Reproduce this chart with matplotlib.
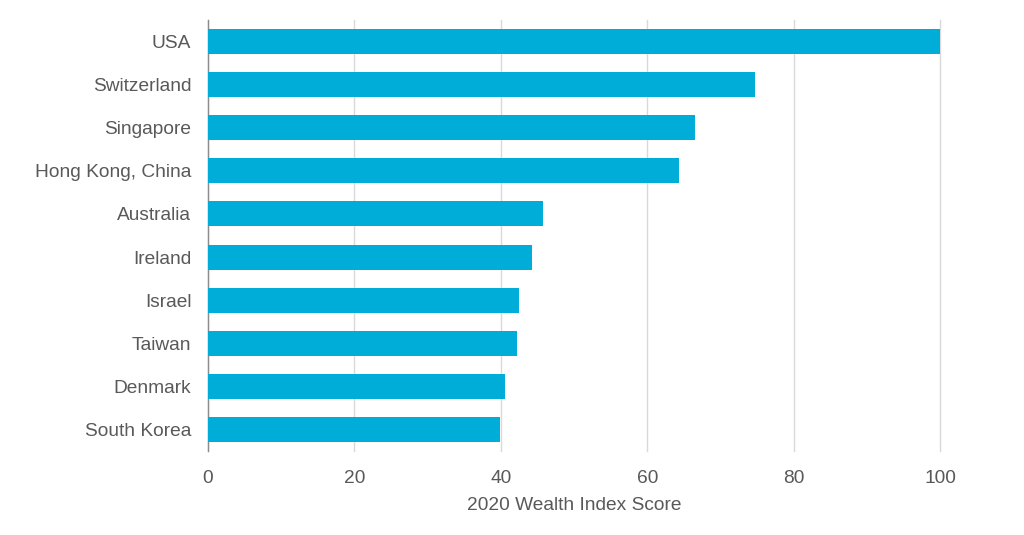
import matplotlib
matplotlib.use("Agg")
import matplotlib.pyplot as plt

countries = ["USA", "Switzerland", "Singapore", "Hong Kong, China", "Australia",
             "Ireland", "Israel", "Taiwan", "Denmark", "South Korea"]
scores = [100, 74.7, 66.5, 64.4, 45.8, 44.3, 42.5, 42.2, 40.6, 39.9]
xticks = [0, 20, 40, 60, 80, 100]

plt.rcParams['font.family'] = ['Liberation Sans', 'DejaVu Sans']
text_color = '#595959'
fs = 13.8

fig = plt.figure(figsize=(10.24, 5.35), dpi=100)
ax = fig.add_axes([208/1024, 1 - 451/535, (940-208)/1024, (451-20)/535])

ypos = list(range(len(countries)))
ax.barh(ypos, scores, height=0.58, color='#00ACD8', zorder=3)
ax.set_ylim(len(countries) - 0.5, -0.5)
ax.set_xlim(0, 100)
ax.set_yticks(ypos)
ax.set_yticklabels(countries)
ax.set_xticks(xticks)
ax.set_xticklabels([str(t) for t in xticks])

ax.grid(axis='x', color='#d9d9d9', linewidth=1.0, zorder=0)
for gl in ax.get_xgridlines():
    gl.set_clip_on(False)
for s in ['top', 'right', 'bottom']:
    ax.spines[s].set_visible(False)
ax.spines['left'].set_color('#8c8c8c')
ax.spines['left'].set_linewidth(1.0)
ax.tick_params(axis='both', length=0, colors=text_color, labelsize=fs)
ax.tick_params(axis='y', pad=12)
ax.tick_params(axis='x', pad=14)
ax.set_xlabel("2020 Wealth Index Score", color=text_color, fontsize=fs, labelpad=7)

fig.savefig("out.png", dpi=100)
